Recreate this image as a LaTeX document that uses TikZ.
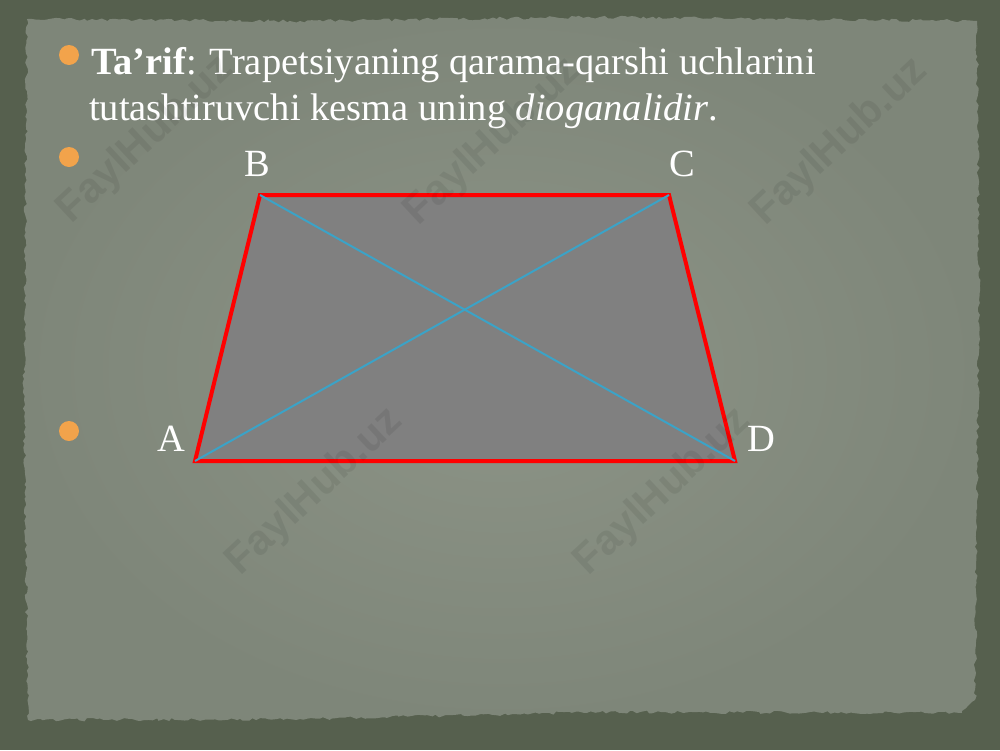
\documentclass[tikz,border=0pt]{standalone}
\usepackage{fontspec}
\setmainfont{Liberation Serif}
\newfontfamily\wmfont{Liberation Sans}
\usetikzlibrary{decorations.pathmorphing}
\definecolor{frameclr}{HTML}{56604E}
\definecolor{paperclr}{HTML}{8D9487}
\definecolor{paperedge}{HTML}{7E8679}
\definecolor{bulletclr}{HTML}{F2A34B}
\definecolor{diagclr}{HTML}{3BA3C7}
\definecolor{trapclr}{HTML}{808080}
\definecolor{redclr}{HTML}{FF0000}
\tikzset{
  slidetext/.style={anchor=base west, inner sep=0pt, text=white, font=\fontsize{38.5}{46}\selectfont},
  vlabel/.style={anchor=base, inner sep=0pt, text=white, font=\fontsize{38.5}{46}\selectfont},
  bulletdot/.style={circle, fill=bulletclr, minimum size=20pt, inner sep=0pt},
  wmark/.style={font=\wmfont\bfseries\fontsize{42}{42}\selectfont, text=black, opacity=0.07, rotate=43, inner sep=0pt},
  sideline/.style={draw=redclr, line width=4pt, line join=miter},
  diagline/.style={draw=diagclr, line width=2pt}
}
\begin{document}
\begin{tikzpicture}[x=1pt,y=-1pt]
\path[use as bounding box] (0,0) rectangle (1000,750);
\fill[frameclr] (0,0) rectangle (1000,750);
\pgfmathsetseed{11}
\shade[inner color=paperclr, outer color=paperedge, decorate, decoration={random steps,segment length=4pt,amplitude=1.6pt}]
  (27,19) -- (300,21) -- (600,17) -- (977,21) -- (979,300) -- (975,700) -- (962,713) -- (600,712) -- (300,719) -- (28,720) -- (24,400) -- cycle;
% bullets
\node[bulletdot] (b1) at (69,55) {};
\node[bulletdot] (b2) at (69,157) {};
\node[bulletdot] (b3) at (69,431) {};
% text
\node[slidetext] (t1) at (91,74) {\textbf{Ta’rif}: Trapetsiyaning qarama-qarshi uchlarini};
\node[slidetext] (t2) at (89,120) {tutashtiruvchi kesma uning \textit{dioganalidir}.};
% trapezoid
\coordinate (A) at (195,461);
\coordinate (B) at (260,195);
\coordinate (C) at (669,195);
\coordinate (D) at (735,461);
\fill[trapclr] (A) -- (B) -- (C) -- (D) -- cycle;
\draw[sideline] (A) -- (B) -- (C) -- (D) -- cycle;
\draw[diagline] (A) -- (C);
\draw[diagline] (B) -- (D);
\node[vlabel] (lB) at (257,176) {B};
\node[vlabel] (lC) at (682,176) {C};
\node[vlabel] (lA) at (171,451) {A};
\node[vlabel] (lD) at (761,451) {D};
% watermarks
\node[wmark] (w1) at (146,140) {FaylHub.uz};
\node[wmark] (w2) at (493,142) {FaylHub.uz};
\node[wmark] (w3) at (840,142) {FaylHub.uz};
\node[wmark] (w4) at (315,492) {FaylHub.uz};
\node[wmark] (w5) at (663,492) {FaylHub.uz};
\end{tikzpicture}
\end{document}
